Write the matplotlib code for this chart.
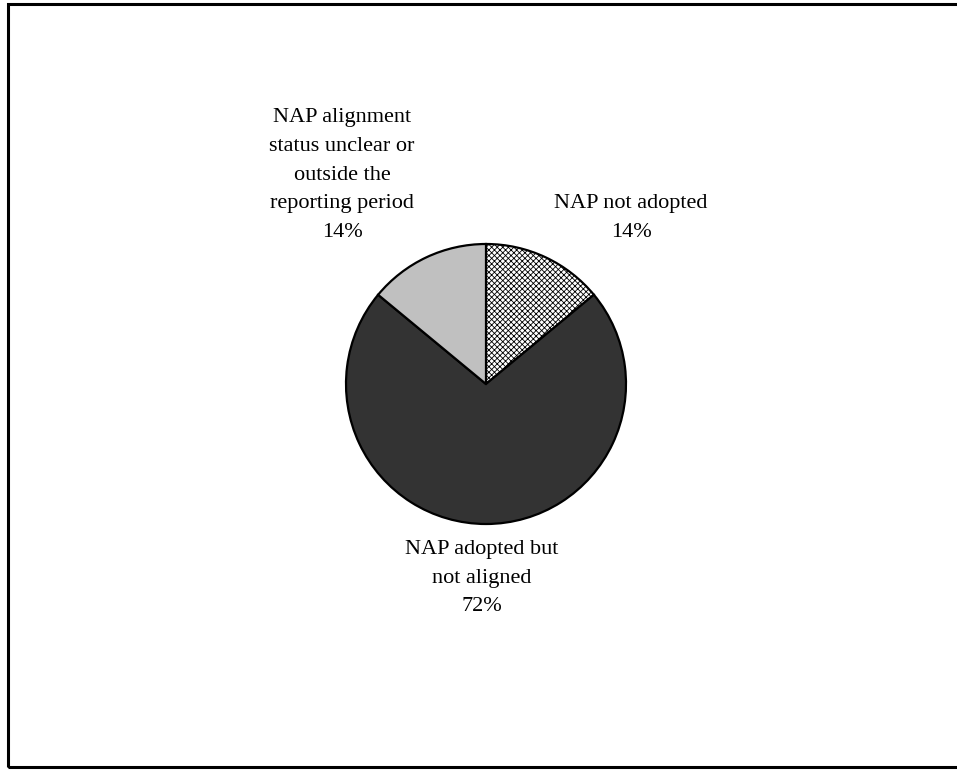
import matplotlib
matplotlib.use("Agg")
import matplotlib.pyplot as plt
from matplotlib.patches import Rectangle

categories = ["NAP not adopted", "NAP adopted but\nnot aligned",
              "NAP alignment\nstatus unclear or\noutside the\nreporting period"]
values = [14, 72, 14]
colors = ["white", "#333333", "#c0c0c0"]
hatches = ["xxxxxx", None, None]

plt.rcParams['font.family'] = ['Liberation Serif', 'DejaVu Serif']
plt.rcParams['hatch.linewidth'] = 0.6

fig = plt.figure(figsize=(9.57, 7.70), dpi=100)
ax = fig.add_axes([0, 0, 1, 1])

# outer frame
ax.add_patch(Rectangle((7.5, 3.5), 960, 763, fill=False, edgecolor='black',
                       linewidth=2.2, clip_on=False))

cx, cy, r = 486, 770 - 384, 140
wedges, _ = ax.pie(values, colors=colors, startangle=90, counterclock=False,
                   center=(cx, cy), radius=r, frame=True,
                   wedgeprops=dict(edgecolor='black', linewidth=1.6))
for w, h in zip(wedges, hatches):
    if h:
        w.set_hatch(h)
ax.set_xlim(0, 957)
ax.set_ylim(0, 770)
ax.set_aspect('equal')
ax.axis('off')

total = sum(values)
pcts = [f"{round(v / total * 100)}%" for v in values]
fs = 16
ls = 1.7
ax.text(631, 770 - 218, f"{categories[0]}\n{pcts[0]}", ha='center', va='center',
        fontsize=fs, linespacing=ls)
ax.text(482, 770 - 578, f"{categories[1]}\n{pcts[1]}", ha='center', va='center',
        fontsize=fs, linespacing=ls)
ax.text(342, 770 - 175, f"{categories[2]}\n{pcts[2]}", ha='center', va='center',
        fontsize=fs, linespacing=ls)

fig.savefig("out.png", dpi=100)
